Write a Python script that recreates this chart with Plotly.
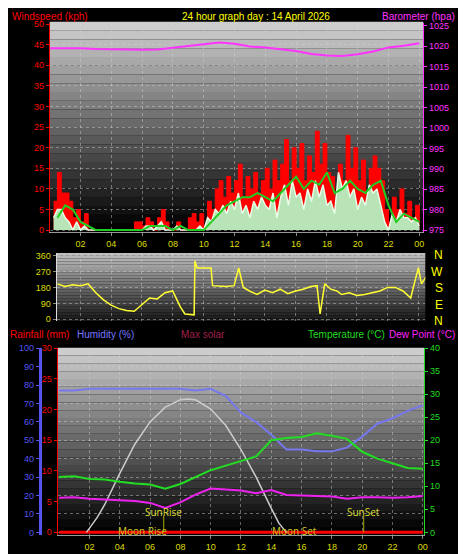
import numpy as np
import plotly.graph_objects as go

# ---- data ----
gust = [7, 14, 9, 9, 7, 3, 5, 2, 4, 0, 0, 0, 0, 0, 0, 0, 0, 0, 0, 0,
        0, 2, 2, 1, 3, 2, 0, 3, 5, 2, 0, 0, 2, 0, 0, 3, 4, 2, 4, 1,
        7, 5, 10, 12, 8, 13, 9, 12, 16, 8, 13, 10, 14, 9, 12, 15, 10, 17, 12, 16,
        22, 12, 20, 15, 21, 12, 18, 14, 24, 16, 21, 14, 13, 8, 16, 12, 23, 15, 20, 12,
        17, 9, 15, 18, 15, 12, 5, 2, 8, 5, 10, 4, 7, 3, 6, 2]
speed = [3, 5, 5, 3, 2, 0, 2, 0, 1, 0, 0, 0, 0, 0, 0, 0, 0, 0, 0, 0,
         0, 0, 0, 0, 1, 1, 0, 1, 2, 0, 0, 0, 1, 0, 0, 0, 0, 0, 1, 0,
         3, 2, 5, 4, 6, 4, 7, 5, 9, 4, 6, 3, 7, 5, 8, 6, 5, 9, 3, 8,
         11, 6, 12, 8, 9, 5, 10, 7, 12, 8, 11, 6, 7, 4, 14, 10, 12, 8, 10, 5,
         8, 6, 11, 9, 10, 6, 2, 0, 4, 2, 5, 3, 3, 2, 3, 1]
avg_speed = [3, 6, 5, 2, 1, 0, 0, 0, 0, 0, 0, 0, 1, 1, 1, 0, 1, 0, 0, 0,
             2, 4, 6, 7, 8, 8, 9, 8, 7, 9, 11, 13, 10, 12, 11, 14, 9, 10, 12, 10,
             9, 11, 12, 6, 2, 4, 3, 2]
baro = [1019.5, 1019.5, 1019.5, 1019.3, 1019.2, 1019.1, 1019.1, 1019.2, 1019.6, 1020.1,
        1020.4, 1020.9, 1020.6, 1019.9, 1019.7, 1019.2, 1018.8, 1018.1, 1017.7, 1017.6,
        1018.0, 1018.7, 1019.7, 1020.1, 1020.7]
direction = [200, 185, 195, 190, 200, 150, 110, 80, 60, 50, 45, 80, 120, 115, 150, 160, 70, 30,
             25, 330, 290, 290, 190, 185, 190, 290, 180, 160, 140, 165, 150, 170, 145, 160,
             170, 185, 190, 30, 200, 170, 160, 140, 150, 135, 140, 150, 160, 180, 180, 160,
             120, 190, 290, 200, 240, 250, 260]
dir_times = [0.5, 1.0, 1.5, 2.0, 2.5, 3.0, 3.5, 4.0, 4.5, 5.0, 5.5, 6.0, 6.5, 7.0, 7.5, 8.0,
             8.5, 8.8, 9.4, 9.45, 9.6, 10.5, 10.6, 11.5, 12.0, 12.3, 12.6, 13.0, 13.5, 14.0,
             14.5, 15.0, 15.5, 16.0, 16.5, 17.0, 17.4, 17.6, 17.9, 18.3, 18.7, 19.0, 19.5,
             20.0, 20.5, 21.0, 21.5, 22.0, 22.5, 23.0, 23.5, 23.7, 24.0, 24.2, 24.5, 25.0, 25.3]
humidity = [77, 77, 78, 78, 78, 78, 78, 78, 78, 77, 78, 74, 65, 60, 53, 45, 45, 44, 44, 46,
            52, 59, 62, 66, 69]
temperature = [12, 12.2, 11.6, 11.5, 11.0, 10.6, 10.4, 9.5, 10.5, 12, 13.5, 14.5, 15.5, 16.5,
               20, 20.5, 20.7, 21.5, 21.0, 20.3, 17.5, 16.0, 15.0, 14.0, 13.8]
dew_point = [7.5, 7.6, 7.3, 7.1, 6.9, 6.8, 6.4, 5.3, 6.5, 8.2, 9.5, 9.3, 9.1, 8.5, 9.2, 8.1,
             8.0, 7.9, 7.8, 7.3, 7.6, 7.6, 7.5, 7.6, 7.9]
solar_times = [1.8, 2.5, 3, 4, 5, 6, 7, 8, 8.5, 9, 10, 11, 12, 13, 14, 14.5, 15]
max_solar = [0, 8, 15, 32, 48, 60, 68, 72, 72.5, 72, 67, 58, 45, 30, 13, 5, 0]
rainfall = [0] * 25
sunrise, sunset = 6.9, 20.1
moonrise, moonset = 5.5, 15.5
hour_ticks = [2, 4, 6, 8, 10, 12, 14, 16, 18, 20, 22, 24]
hour_labels = ["02", "04", "06", "08", "10", "12", "14", "16", "18", "20", "22", "00"]

t_q = np.arange(1, 97) * 0.25
t_h = np.arange(0.5, 24.5, 0.5)
t_1 = np.arange(0, 25)

W, H = 466, 554
px = lambda v: v / W
py = lambda v: 1 - v / H

fig = go.Figure()
def line(x, y, xa, ya, color, width=2, **kw):
    fig.add_trace(go.Scatter(x=x, y=y, mode="lines", xaxis=xa, yaxis=ya,
                             line=dict(color=color, width=width, shape=kw.pop("shape", "linear")),
                             **kw))

line(t_q, gust, "x", "y", "#ff0000", 1, shape="hv", fill="tozeroy", fillcolor="#ff0000")
line(t_q, speed, "x", "y", "#e8ffe8", 1.5, fill="tozeroy", fillcolor="#b8e4b8")
line(t_h, avg_speed, "x", "y", "#22cc22")
line(t_1, baro, "x", "y2", "#ff33ff")
line(dir_times, direction, "x2", "y3", "#ffff33", 1.5)
line(t_1, humidity, "x3", "y5", "#7777ee")
line(solar_times, max_solar, "x3", "y5", "#cccccc", 1.5)
line(t_1, temperature, "x3", "y6", "#22dd22")
line(t_1, dew_point, "x3", "y6", "#ee22ee")
line(t_1, rainfall, "x3", "y4", "#ff0000", 3)

# gradient backgrounds
shapes = []
def gradient(x0, x1, y0, y1, top, bottom, n=24):
    for i in range(n):
        f = i / (n - 1)
        g = int(top + (bottom - top) * f)
        shapes.append(dict(type="rect", xref="paper", yref="paper", layer="below",
                           x0=px(x0), x1=px(x1), y0=py(y0 + (y1 - y0) * i / n),
                           y1=py(y0 + (y1 - y0) * (i + 1) / n),
                           fillcolor=f"rgb({g},{g},{g})", line_width=0))
gradient(42, 418, 10, 223, 205, 0)
gradient(49, 420, 244, 313, 190, 25)
gradient(50, 419, 340, 530, 205, 0)

for tm, lab in [(sunrise, "SunRise"), (sunset, "SunSet")]:
    shapes.append(dict(type="line", xref="x3", yref="y5", x0=tm, x1=tm, y0=0, y1=9,
                       line=dict(color="#aaaa00", width=1)))
    fig.add_annotation(x=tm, y=11, xref="x3", yref="y5", text=lab, showarrow=False,
                       font=dict(color="#dddd33", size=10))
for tm, lab in [(moonrise, "Moon Rise"), (moonset, "Moon Set")]:
    fig.add_annotation(x=tm, y=1, xref="x3", yref="y5", text=lab, showarrow=False,
                       font=dict(color="#cccc22", size=10))

lbl = dict(family="Liberation Sans, Arial", size=10)
texts = [
    (2, 5, "Windspeed (kph)", "#ff0000", "left"),
    (250, 5, "24 hour graph day : 14 April 2026", "#ffff00", "center"),
    (452, 5, "Barometer (hpa)", "#ff33ff", "right"),
    (0, 327, "Rainfall (mm)", "#ff0000", "left"),
    (67, 327, "Humidity (%)", "#7777ff", "left"),
    (172, 327, "Max solar", "#a0204a", "left"),
    (300, 327, "Temperature (°C)", "#22dd22", "left"),
    (452, 327, "Dew Point (°C)", "#ff22ff", "right"),
]
for x, y, s, c, a in texts:
    fig.add_annotation(x=px(x), y=py(y), xref="paper", yref="paper", text=s, showarrow=False,
                       xanchor=a, yanchor="middle", font=dict(color=c, **lbl))
for s, y in zip(["N", "W", "S", "E", "N"], [246, 263, 280, 297, 313]):
    fig.add_annotation(x=px(440), y=py(y), xref="paper", yref="paper", text=s, showarrow=False,
                       font=dict(color="#ffff00", family="Liberation Sans, Arial", size=12))

tick = dict(family="Liberation Sans, Arial", size=9)
grid = dict(showgrid=True, gridcolor="rgba(210,210,210,0.45)", griddash="dot", zeroline=False)
xcommon = dict(tickvals=hour_ticks, ticktext=hour_labels, tickfont=dict(color="#dddd00", **tick),
               ticks="outside", ticklen=3, tickcolor="#888888", **grid)

fig.update_layout(
    width=W, height=H, margin=dict(l=0, r=0, t=0, b=0),
    paper_bgcolor="black", plot_bgcolor="rgba(0,0,0,0)", showlegend=False, shapes=shapes,
    xaxis=dict(domain=[px(42), px(418)], range=[0, 24.26], anchor="y",
               showline=True, linecolor="#999999", **xcommon),
    yaxis=dict(domain=[py(223), py(11)], range=[-0.5, 50.3], dtick=5,
               tickfont=dict(color="#ff0000", **tick), ticks="outside", ticklen=3,
               tickcolor="#ff0000", showline=True, linecolor="#ff0000", **grid),
    yaxis2=dict(overlaying="y", side="right", anchor="x", range=[974.5, 1025.7], dtick=5,
                tickfont=dict(color="#ff33ff", **tick), ticks="outside", ticklen=3,
                tickcolor="#ff33ff", showline=True, linecolor="#ff33ff", showgrid=False),
    xaxis2=dict(domain=[px(49), px(420)], range=[0.45, 24.45], anchor="y3",
                showticklabels=False, tickvals=hour_ticks, **grid),
    yaxis3=dict(domain=[py(313), py(244)], range=[-10, 375], tickvals=[0, 90, 180, 270, 360],
                tickfont=dict(color="#dddd00", **tick), ticks="outside", ticklen=3,
                tickcolor="#888888", showline=True, linecolor="#dddddd", anchor="x2", **grid),
    xaxis3=dict(domain=[px(50), px(419)], range=[-0.1, 24.1], anchor="y4",
                showline=True, linecolor="#999999", **xcommon),
    yaxis4=dict(domain=[py(530), py(340)], range=[-0.5, 30.1], dtick=5, anchor="x3",
                tickfont=dict(color="#ff0000", **tick), ticks="outside", ticklen=3,
                tickcolor="#ff0000", showline=True, linecolor="#ff0000", showgrid=False,
                zeroline=False),
    yaxis5=dict(overlaying="y4", anchor="free", position=px(32), range=[-1.6, 100.3], dtick=10,
                tickfont=dict(color="#5555ee", **tick), ticks="outside", ticklen=3,
                tickcolor="#5555ee", showline=True, linecolor="#5555ee", linewidth=3, **grid),
    yaxis6=dict(overlaying="y4", side="right", anchor="x3", range=[-0.64, 40.1], dtick=5,
                tickfont=dict(color="#22dd22", **tick), ticks="outside", ticklen=3,
                tickcolor="#22dd22", showline=True, linecolor="#22dd22", showgrid=False,
                zeroline=False),
)

fig.write_html("out.html")
